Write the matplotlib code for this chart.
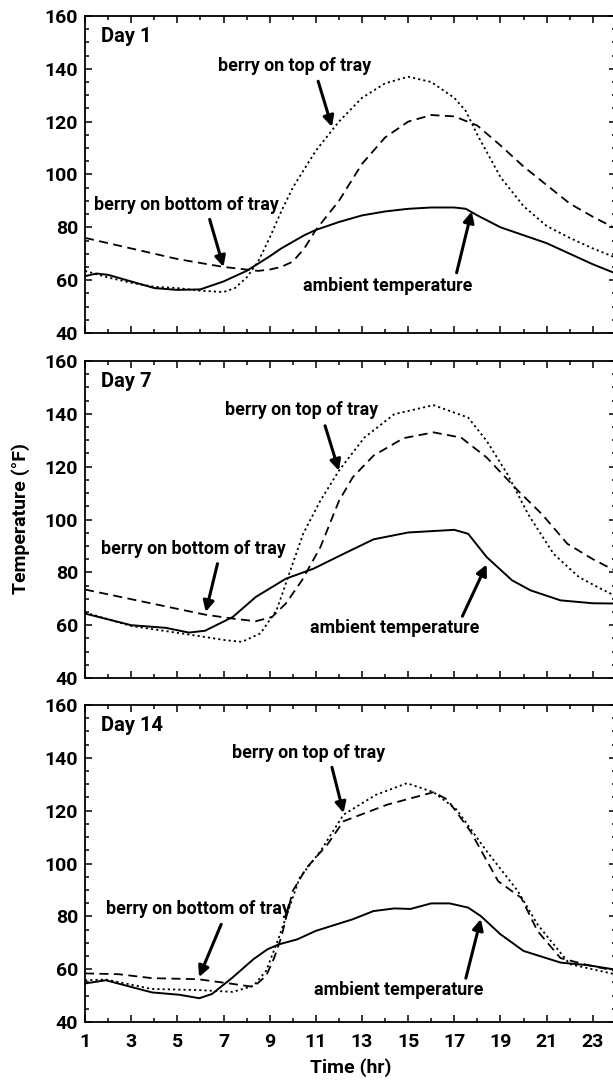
import numpy as np
import matplotlib
matplotlib.use("Agg")
import matplotlib.pyplot as plt
from matplotlib.ticker import MultipleLocator

plt.rcParams['font.family'] = ['Roboto', 'DejaVu Sans']
plt.rcParams['font.weight'] = 'bold'

# ---- data (hour, deg F) ----
# Day 1
d1_amb_t = [1, 1.5, 2, 3, 4, 5, 6, 7, 8, 9, 9.5, 10, 10.5, 11, 12, 13, 14, 15, 16, 17, 17.5, 18, 19, 20, 21, 22, 23, 24]
d1_amb = [61.5, 62.5, 62, 59.5, 57, 56.3, 56.5, 59.5, 63.5, 69, 72, 74.5, 77, 79, 82, 84.5, 86, 87, 87.5, 87.5, 87, 84.5, 80, 77, 74, 70, 66, 62.5]
d1_bot_t = [1, 2, 3, 4, 5, 6, 7, 8, 8.5, 9, 9.5, 10, 10.5, 11, 12, 13, 14, 15, 16, 17, 18, 19, 20, 21, 22, 23, 24]
d1_bot = [76, 74, 72, 70, 68, 66.5, 65, 64, 63.5, 64, 65, 67, 72, 79, 90, 104, 114, 120, 122.5, 122, 118.5, 111, 103, 96, 89, 84, 79.5]
d1_top_t = [1, 2, 3, 4, 5, 6, 7, 7.5, 8, 8.5, 9, 9.5, 10, 11, 12, 13, 14, 15, 16, 17, 17.5, 18, 18.5, 19, 20, 21, 22, 23, 24]
d1_top = [63.5, 61, 59, 57.5, 57, 56, 55.5, 57, 61, 67, 76, 86, 95, 109, 120, 129, 134.5, 137, 135, 129, 124, 115, 107, 99, 88, 80.5, 76, 72, 68.5]

# Day 7
d7_amb_t = [1, 3, 4.5, 5.5, 6.2, 7.4, 8.4, 9.7, 10.9, 12.2, 13.5, 15, 17, 17.6, 18.4, 19.5, 20.3, 21.6, 23, 24]
d7_amb = [64.4, 60, 59, 57.2, 57.9, 63.1, 70.7, 77.6, 81.4, 87, 92.5, 95.1, 96.1, 94.6, 85.8, 77, 73.2, 69.4, 68.3, 68.2]
d7_bot_t = [1, 3.9, 6.2, 7.4, 8.4, 9.1, 9.7, 10.4, 11.2, 12, 12.6, 13.5, 14.8, 16.1, 17.3, 18.4, 19.75, 20.8, 21.9, 23, 24]
d7_bot = [73.5, 68.2, 64, 62.5, 61.5, 63.1, 68.2, 77, 89.6, 107, 116, 124.2, 130.8, 133, 131, 123.5, 111, 102, 90.8, 85, 80.5]
d7_top_t = [1, 3, 5.4, 7.1, 7.8, 8.6, 9.3, 9.9, 10.45, 11.2, 12, 13.1, 14.4, 16.1, 17.6, 18.4, 19.3, 20.2, 21.3, 22.4, 23.3, 24]
d7_top = [64.8, 59.7, 56.6, 54.3, 53.7, 56.9, 65.7, 80.8, 94.6, 107.2, 118.5, 131, 139.9, 143.3, 138.6, 129.8, 117.2, 102, 87, 78.2, 74, 71]

# Day 14
d14_amb_t = [1, 1.9, 3.9, 5.1, 5.95, 6.5, 7.4, 8.3, 8.9, 9.4, 10.2, 11, 12.6, 13.5, 14.4, 15.1, 16, 16.8, 17.6, 18.15, 19, 20, 21.6, 22.8, 24]
d14_amb = [54.6, 55.8, 51.2, 50.3, 49, 50.6, 56.9, 63.8, 67.5, 69.4, 71.3, 74.5, 78.9, 82, 83, 82.8, 84.9, 84.9, 83.3, 80.1, 73.2, 66.9, 62.5, 61.5, 59.8]
d14_bot_t = [1, 2.45, 3.9, 5.9, 7.25, 8.3, 8.85, 9.2, 9.5, 10, 10.6, 11.5, 12.2, 14.1, 16.1, 16.7, 17.7, 18.9, 19.9, 20.6, 21.6, 22.8, 24]
d14_bot = [58.4, 58.1, 56.6, 56.2, 54.6, 53.3, 57.5, 64.4, 72, 89.6, 98.4, 107.2, 116, 122.3, 127, 124.2, 112.2, 93.3, 87, 74.5, 64.2, 61.5, 59.3]
d14_top_t = [1, 1.9, 3.9, 5.9, 7.4, 8.3, 8.85, 9.4, 10.3, 11.2, 12.2, 13.6, 14.95, 16.1, 17.1, 18.4, 19.75, 20.6, 22, 24]
d14_top = [55.8, 56.1, 52.5, 52.1, 51.4, 53.7, 59.4, 72, 94.6, 104.7, 118.5, 126, 130.4, 127, 120.4, 104.7, 89.6, 77, 61.9, 58]

days = ["Day 1", "Day 7", "Day 14"]
series = [
    (d1_amb_t, d1_amb, d1_bot_t, d1_bot, d1_top_t, d1_top),
    (d7_amb_t, d7_amb, d7_bot_t, d7_bot, d7_top_t, d7_top),
    (d14_amb_t, d14_amb, d14_bot_t, d14_bot, d14_top_t, d14_top),
]
# annotation (text xy, arrow tail, arrow tip) per panel
notes = [
    {"top": ((10.1, 141), (11.1, 135.3), (11.7, 118)),
     "bot": ((5.4, 88.6), (6.4, 83), (7.0, 65)),
     "amb": ((14.1, 57.9), (17.1, 62.8), (17.75, 86))},
    {"top": ((10.4, 141.4), (11.4, 135.5), (12.0, 118.5)),
     "bot": ((5.7, 89), (6.74, 83.3), (6.23, 65)),
     "amb": ((14.4, 59), (17.35, 63.4), (18.4, 83))},
    {"top": ((10.7, 142), (11.7, 136.4), (12.2, 119.1)),
     "bot": ((5.9, 82.6), (6.9, 77), (5.94, 57)),
     "amb": ((14.6, 52.2), (17.5, 56.6), (18.15, 79))},
]
labels = {"top": "berry on top of tray", "bot": "berry on bottom of tray", "amb": "ambient temperature"}

fig = plt.figure(figsize=(6.13, 10.8), dpi=100)
bottoms = [0.6917, 0.3722, 0.0537]
axes = []
for i in range(3):
    ax = fig.add_axes([0.1387, bottoms[i], 0.866, 0.2935])
    axes.append(ax)
    at, a, bt, b, tt, tp = series[i]
    ax.plot(at, a, color='k', lw=1.4, ls='-')
    ax.plot(bt, b, color='k', lw=1.3, ls=(0, (5, 3)))
    ax.plot(tt, tp, color='k', lw=1.3, ls=(0, (1.2, 1.7)))
    ax.set_xlim(1, 24)
    ax.set_ylim(40, 160)
    ax.xaxis.set_minor_locator(MultipleLocator(1))
    ax.set_xticks(np.arange(1, 24, 2))
    ax.yaxis.set_major_locator(MultipleLocator(20))
    ax.yaxis.set_minor_locator(MultipleLocator(5))
    ax.tick_params(which='both', direction='in', top=True, right=True, width=1.1)
    ax.tick_params(which='major', length=5, labelsize=14, pad=5)
    ax.tick_params(axis='x', which='major', pad=8)
    ax.tick_params(which='minor', length=3)
    for s in ax.spines.values():
        s.set_linewidth(1.3)
    for lab in ax.get_yticklabels() + ax.get_xticklabels():
        lab.set_fontweight('bold')
    if i < 2:
        ax.tick_params(labelbottom=False)
    ax.text(0.03, 0.934, days[i], transform=ax.transAxes, fontsize=14.5,
            fontweight='bold', ha='left', va='center')
    for key in ["top", "bot", "amb"]:
        (tx, ty), tail, tip = notes[i][key]
        ax.text(tx, ty, labels[key], fontsize=12.8, fontweight='bold',
                ha='center', va='center')
        ax.annotate("", xy=tip, xytext=tail,
                    arrowprops=dict(arrowstyle='-|>', color='k', lw=2.2,
                                    mutation_scale=16, shrinkA=0, shrinkB=0))

axes[2].set_xlabel("Time (hr)", fontsize=14, fontweight='bold', labelpad=5)
fig.text(0.033, 0.52, "Temperature (\u00b0F)", rotation=90, fontsize=14,
         fontweight='bold', ha='center', va='center')

fig.savefig("out.png", dpi=100)
